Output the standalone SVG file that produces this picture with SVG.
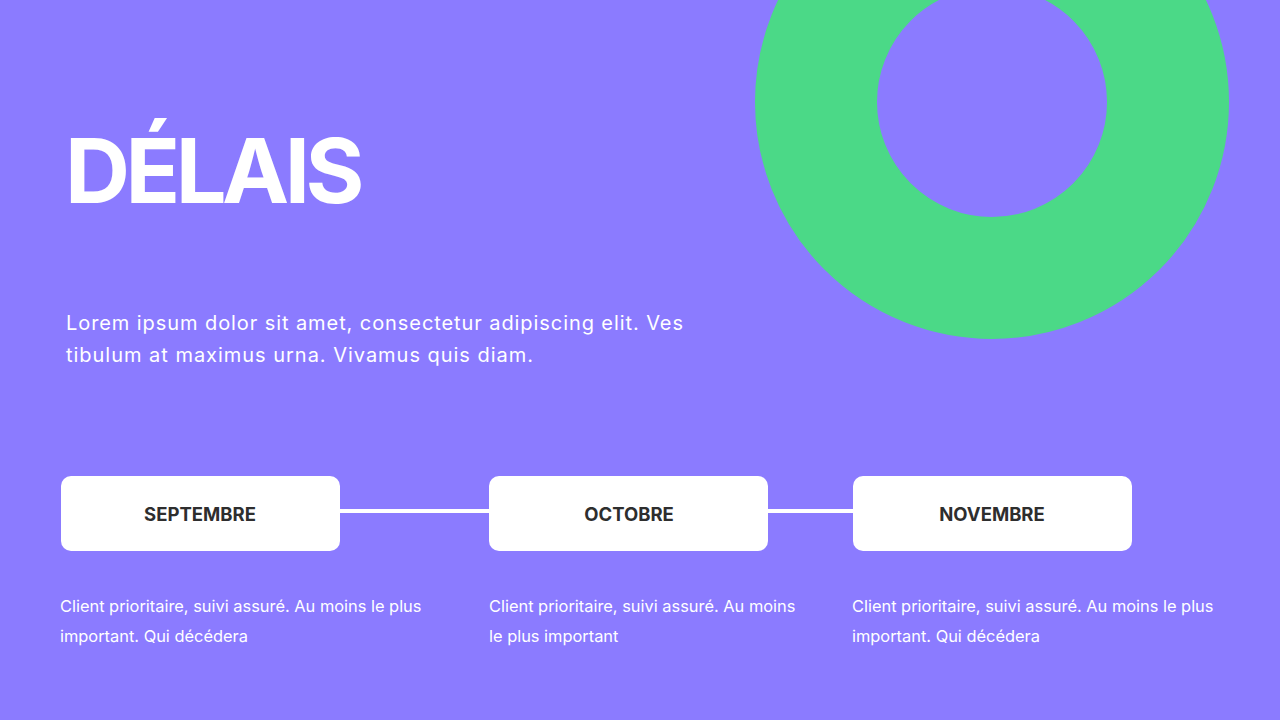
<svg xmlns="http://www.w3.org/2000/svg" width="1280" height="720" viewBox="0 0 1280 720">
<style>
.title{font-family:Inter,"Liberation Sans",sans-serif;font-weight:700;font-size:90px;fill:#fff;letter-spacing:-4.5px}
.lead{font-family:Inter,"Liberation Sans",sans-serif;font-size:20px;fill:#fff}
.box{fill:#fff}
.lbl{font-family:Inter,"Liberation Sans",sans-serif;font-weight:700;font-size:18.5px;fill:#2e2e2e;text-anchor:middle}
.desc{font-family:Inter,"Liberation Sans",sans-serif;font-size:16.4px;fill:#fff}
.conn{stroke:#fff;stroke-width:4}
</style>
<rect width="1280" height="720" fill="#8b7bff"/>
<circle cx="992" cy="102" r="176" fill="none" stroke="#4bd987" stroke-width="122"/>
<text class="title" x="65" y="203">DÉLAIS</text>
<text class="lead" x="66" y="330" textLength="617" lengthAdjust="spacing">Lorem ipsum dolor sit amet, consectetur adipiscing elit. Ves</text>
<text class="lead" x="66" y="362" textLength="467" lengthAdjust="spacing">tibulum at maximus urna. Vivamus quis diam.</text>
<g id="connectors">
<line class="conn" x1="340" y1="511" x2="489" y2="511"/>
<line class="conn" x1="768" y1="511" x2="853" y2="511"/>
</g>
<g id="septembre">
<rect class="box" x="61" y="476" width="279" height="75" rx="10"/>
<text class="lbl" x="200" y="521">SEPTEMBRE</text>
<text class="desc" x="60" y="612">Client prioritaire, suivi assuré. Au moins le plus</text>
<text class="desc" x="60" y="642">important. Qui décédera</text>
</g>
<g id="octobre">
<rect class="box" x="489" y="476" width="279" height="75" rx="10"/>
<text class="lbl" x="629" y="521">OCTOBRE</text>
<text class="desc" x="489" y="612">Client prioritaire, suivi assuré. Au moins</text>
<text class="desc" x="489" y="642">le plus important</text>
</g>
<g id="novembre">
<rect class="box" x="853" y="476" width="279" height="75" rx="10"/>
<text class="lbl" x="992" y="521">NOVEMBRE</text>
<text class="desc" x="852" y="612">Client prioritaire, suivi assuré. Au moins le plus</text>
<text class="desc" x="852" y="642">important. Qui décédera</text>
</g>
</svg>
